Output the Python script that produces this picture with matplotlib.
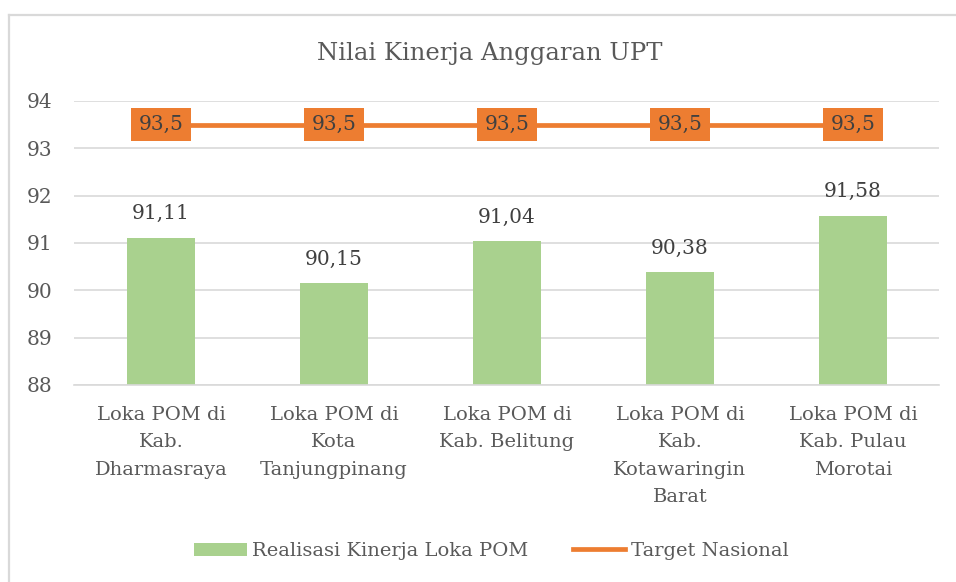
import matplotlib
matplotlib.use("Agg")
import matplotlib.pyplot as plt
from matplotlib.lines import Line2D
from matplotlib.patches import Patch

categories = [
    "Loka POM di\nKab.\nDharmasraya",
    "Loka POM di\nKota\nTanjungpinang",
    "Loka POM di\nKab. Belitung",
    "Loka POM di\nKab.\nKotawaringin\nBarat",
    "Loka POM di\nKab. Pulau\nMorotai",
]
realisasi = [91.11, 90.15, 91.04, 90.38, 91.58]
target = [93.5, 93.5, 93.5, 93.5, 93.5]
yticks = [88, 89, 90, 91, 92, 93, 94]

GREEN = "#A9D18E"
ORANGE = "#ED7D31"
TEXT = "#595959"
DARK = "#404040"
GRID = "#D9D9D9"
FONT = "DejaVu Serif"

plt.rcParams["font.family"] = FONT

fig = plt.figure(figsize=(9.56, 5.82), dpi=100)
# chart frame (top and left edges visible)
fig.add_artist(Line2D([8.5 / 956, 1.0], [1 - 14.5 / 582, 1 - 14.5 / 582], transform=fig.transFigure,
                      color=GRID, linewidth=1.6))
fig.add_artist(Line2D([8.5 / 956, 8.5 / 956], [0.0, 1 - 14.5 / 582], transform=fig.transFigure,
                      color=GRID, linewidth=1.6))

ax = fig.add_axes([0.0779, 0.3385, 0.9048, 0.488])

x = list(range(len(categories)))
ax.bar(x, [r - 88 for r in realisasi], bottom=88, width=0.39, color=GREEN, zorder=2)
ax.plot(x, target, color=ORANGE, linewidth=3.4, zorder=3, solid_capstyle="butt")

for xi, v in zip(x, realisasi):
    ax.annotate(f"{v:.2f}".replace(".", ","), (xi, v), xytext=(0, 10.5), textcoords="offset points",
                ha="center", va="bottom", fontsize=14.5, color=DARK)
for xi, v in zip(x, target):
    ax.text(xi, v, f"{v:.1f}".replace(".", ","), ha="center", va="center", fontsize=14.5, color=DARK,
            zorder=4, bbox=dict(boxstyle="square,pad=0.36", facecolor=ORANGE, edgecolor="none"))

ax.set_xlim(-0.5, len(categories) - 0.5)
ax.set_ylim(88, 94)
ax.set_yticks(yticks)
ax.set_yticklabels([str(t) for t in yticks], fontsize=14.5, color=TEXT)
ax.set_xticks(x)
ax.set_xticklabels(categories, fontsize=14, color=TEXT, linespacing=1.68, va="top")
ax.tick_params(axis="both", length=0)
ax.tick_params(axis="x", pad=15)
ax.tick_params(axis="y", pad=16)
ax.grid(axis="y", color=GRID, linewidth=1.2, zorder=0)
for s in ["top", "right", "left"]:
    ax.spines[s].set_visible(False)
ax.spines["bottom"].set_color(GRID)
ax.spines["bottom"].set_linewidth(1.2)

fig.text(0.512, 0.908, "Nilai Kinerja Anggaran UPT", ha="center", va="center", fontsize=17.5, color=TEXT)

handles = [Patch(facecolor=GREEN, edgecolor="none", label="Realisasi Kinerja Loka POM"),
           Line2D([0], [0], color=ORANGE, linewidth=3.4, label="Target Nasional")]
fig.legend(handles=handles, loc="center", bbox_to_anchor=(0.514, 0.053), ncol=2, frameon=False,
           fontsize=14, labelcolor=TEXT, handlelength=2.7, handletextpad=0.26, columnspacing=2.3)

fig.savefig("out.png", dpi=100)
